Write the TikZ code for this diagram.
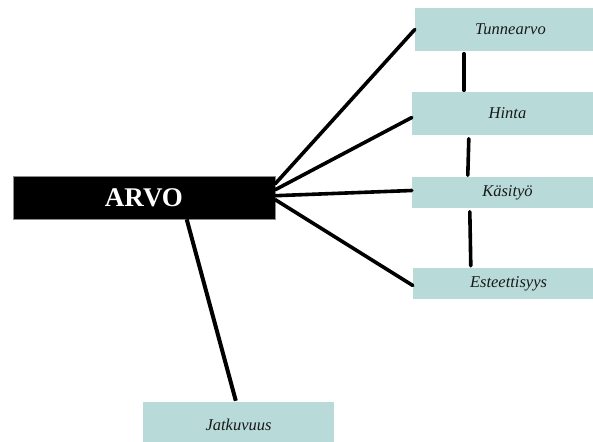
\documentclass[tikz,border=0pt]{standalone}
\usepackage{fontspec}
\setmainfont{Liberation Serif}
\usetikzlibrary{calc}
\definecolor{boxteal}{RGB}{184,219,217}
\definecolor{labelink}{RGB}{25,25,25}
\begin{document}
\begin{tikzpicture}[x=1pt,y=-1pt,
  mainbox/.style={fill=black,draw=black!45,line width=0.6pt,text=white,
    font=\bfseries\fontsize{27}{30}\selectfont,inner sep=0pt,
    minimum width=262pt,minimum height=43pt},
  itembox/.style={fill=boxteal,draw=none,text=labelink,
    font=\itshape\fontsize{16.5}{19}\selectfont,inner sep=0pt,
    minimum width=191pt},
  link/.style={line width=3.6pt,line cap=round,black}]
\useasboundingbox (0,0) rectangle (593,441);

% central node
\node[mainbox] (arvo) at (144,197.5) {ARVO};

% value aspects on the right
\node[itembox,minimum height=43pt] (tunne) at (510.5,29.5) {Tunnearvo};
\node[itembox,minimum height=43pt] (hinta) at (507.5,113.5) {Hinta};
\node[itembox,minimum height=31pt] (kasi)  at (507.5,192.5) {Käsityö};
\node[itembox,minimum height=31pt] (este)  at (508.5,283.5) {Esteettisyys};

% continuity below
\node[itembox,minimum height=46pt] (jatk) at (238.5,425) {Jatkuvuus};

% fan of connectors from the central node
\draw[link] ($(arvo.north east)+(0,8)$)  -- (tunne.west);
\draw[link] ($(arvo.north east)+(0,14)$) -- ($(hinta.west)+(0,4)$);
\draw[link] ($(arvo.north east)+(0,20)$) -- ($(kasi.west)+(0,-2)$);
\draw[link] ($(arvo.north east)+(0,24)$) -- ($(este.west)+(0,2)$);

% chain between the right-hand boxes
\draw[link] ($(tunne.south west)+(49,2.5)$) -- ($(hinta.north west)+(52,-1.5)$);
\draw[link] ($(hinta.south west)+(57,3.5)$) -- ($(kasi.north west)+(56,-1.5)$);
\draw[link] ($(kasi.south west)+(58,3.5)$)  -- ($(este.north west)+(58,-2)$);

% link down to continuity
\draw[line width=4pt,black] ($(arvo.south west)+(174,0)$) -- ($(jatk.north west)+(93,-1)$);
\end{tikzpicture}
\end{document}
